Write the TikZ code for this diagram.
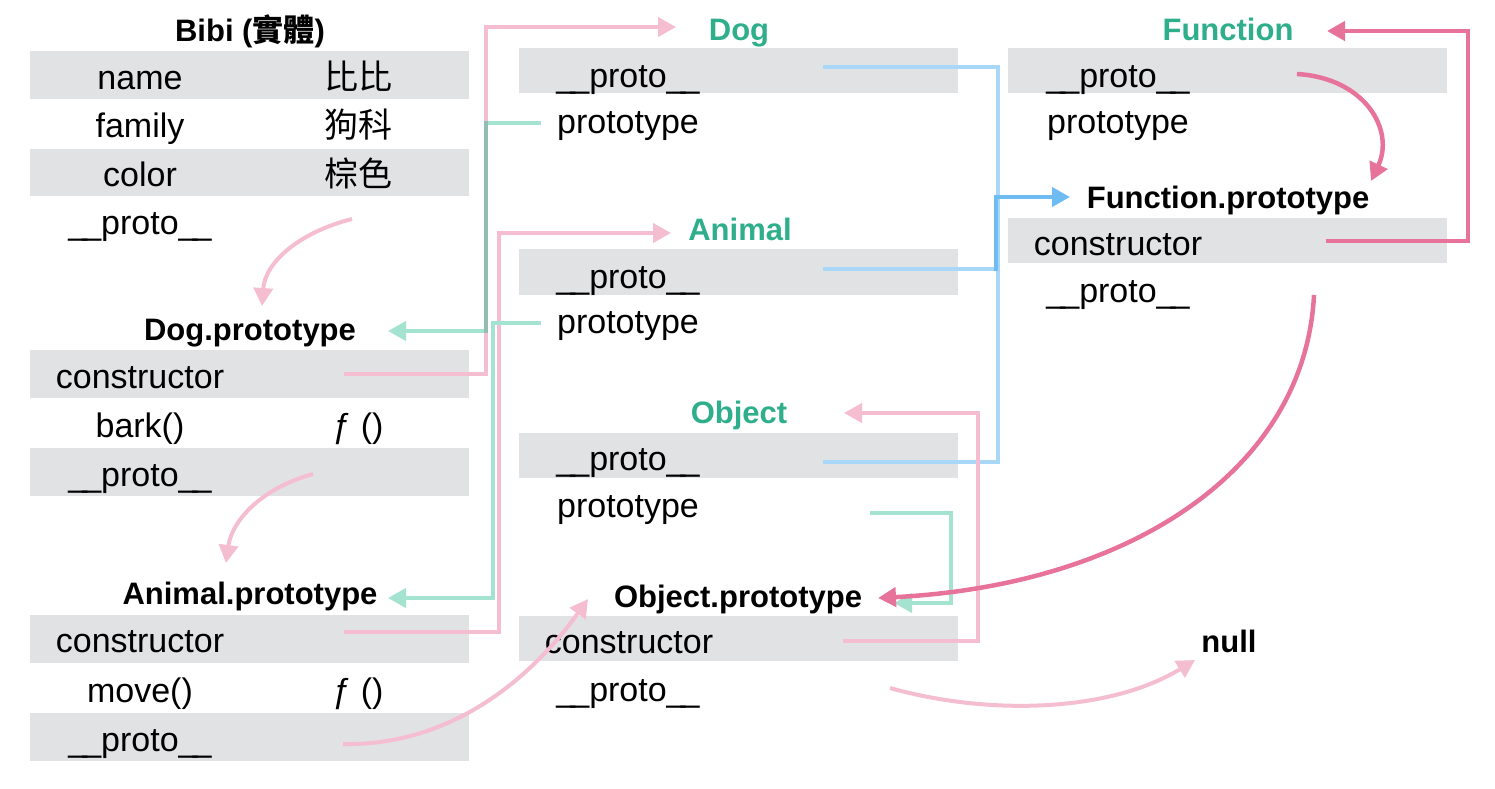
\documentclass[tikz,border=0pt]{standalone}
\usepackage{fontspec}
\setmainfont{Liberation Sans}
\newfontfamily\cjk{Noto Sans CJK TC}
\usetikzlibrary{arrows.meta}
\definecolor{barc}{HTML}{E1E2E4}
\definecolor{tealtxt}{HTML}{2FAE8C}
\definecolor{pinkc}{HTML}{F5BDD0}
\definecolor{dpink}{HTML}{E8739A}
\definecolor{tealc}{HTML}{A3E3D0}
\definecolor{mixc}{HTML}{93BDB3}
\definecolor{bluec}{HTML}{A9D7F7}
\definecolor{dbluec}{HTML}{6FBCF3}
\newcommand\pro{\_\kern-5pt\_proto\_\kern-5pt\_}
\tikzset{
  lbl/.style={anchor=base, inner sep=0pt, font=\fontsize{34}{40}\selectfont},
  ttl/.style={anchor=base, inner sep=0pt, font=\fontsize{31}{38}\selectfont\bfseries},
  tttl/.style={ttl, text=tealtxt},
  bararea/.style={fill=barc},
  tip/.style={-{Triangle[length=18pt,width=19pt]}},
  lpink/.style={tip, draw=pinkc, line width=4pt},
  dkpink/.style={tip, draw=dpink, line width=4.5pt},
  tealln/.style={tip, draw=tealc, line width=4pt},
  mixln/.style={draw=mixc, line width=4pt},
  blueln/.style={draw=bluec, line width=4pt},
  dblueln/.style={tip, draw=dbluec, line width=4pt},
}
\begin{document}
\begin{tikzpicture}[x=1pt,y=-1pt]
\useasboundingbox (0,0) rectangle (1495,788);
% bars
\fill[bararea] (30,51) rectangle (469,99);
\fill[bararea] (30,149) rectangle (469,196);
\fill[bararea] (30,350) rectangle (469,398);
\fill[bararea] (30,448) rectangle (469,496);
\fill[bararea] (30,615) rectangle (469,663);
\fill[bararea] (30,713) rectangle (469,761);
\fill[bararea] (519,48) rectangle (958,93);
\fill[bararea] (519,249) rectangle (958,295);
\fill[bararea] (519,433) rectangle (958,478);
\fill[bararea] (519,616) rectangle (958,661);
\fill[bararea] (1008,48) rectangle (1447,93);
\fill[bararea] (1008,218) rectangle (1447,263);

% left column
\node[ttl] (bibi) at (250,41) {Bibi ({\cjk 實體})};
\node[lbl] (bname) at (140,89) {name};
\node[lbl] (bnamev) at (358,89) {\cjk 比比};
\node[lbl] (bfam) at (140,137) {family};
\node[lbl] (bfamv) at (358,137) {\cjk 狗科};
\node[lbl] (bcol) at (140,186) {color};
\node[lbl] (bcolv) at (358,186) {\cjk 棕色};
\node[lbl] (bproto) at (140,234) {\pro};

\node[ttl] (dogpt) at (250,340) {Dog.prototype};
\node[lbl] (dogptc) at (140,388) {constructor};
\node[lbl] (dogptb) at (140,437) {bark()};
\node[lbl] (dogptbv) at (358,437) {ƒ ()};
\node[lbl] (dogptp) at (140,486) {\pro};

\node[ttl] (anipt) at (250,604) {Animal.prototype};
\node[lbl] (aniptc) at (140,652) {constructor};
\node[lbl] (aniptm) at (140,702) {move()};
\node[lbl] (aniptmv) at (358,702) {ƒ ()};
\node[lbl] (aniptp) at (140,751) {\pro};

% middle column
\node[tttl] (dog) at (739,40) {Dog};
\node[lbl] (dogp) at (628,87) {\pro};
\node[lbl] (dogpt2) at (628,133) {prototype};
\node[tttl] (ani) at (740,240) {Animal};
\node[lbl] (anip) at (628,288) {\pro};
\node[lbl] (anipt2) at (628,333) {prototype};
\node[tttl] (obj) at (739,423) {Object};
\node[lbl] (objp) at (628,470) {\pro};
\node[lbl] (objpt2) at (628,517) {prototype};
\node[ttl] (objpt) at (738,607) {Object.prototype};
\node[lbl] (objptc) at (629,653) {constructor};
\node[lbl] (objptp) at (628,701) {\pro};

% right column
\node[tttl] (fun) at (1228,40) {Function};
\node[lbl] (funp) at (1118,87) {\pro};
\node[lbl] (funpt2) at (1118,133) {prototype};
\node[ttl] (funpt) at (1228,208) {Function.prototype};
\node[lbl] (funptc) at (1118,255) {constructor};
\node[lbl] (funptp) at (1118,302) {\pro};
\node[ttl] (null) at (1229,652) {null};

% connector end points
\coordinate (bibiPs) at (352,219);
\coordinate (dogptIn) at (262,306);
\coordinate (dogptCs) at (344,374);
\coordinate (dogIn) at (676,27);
\coordinate (dogPTs) at (541,123);
\coordinate (dogptR) at (388,331);
\coordinate (dogptPs) at (313,474);
\coordinate (aniptIn) at (226,563);
\coordinate (aniptCs) at (344,632);
\coordinate (aniIn) at (671,233);
\coordinate (aniPTs) at (541,323);
\coordinate (aniptR) at (388,598);
\coordinate (aniptPs) at (343,744);
\coordinate (objptIn) at (588,599);
\coordinate (dogPs) at (823,67);
\coordinate (aniPs) at (823,269);
\coordinate (objPs) at (823,462);
\coordinate (funptIn) at (1070,197);
\coordinate (funPs) at (1297,74);
\coordinate (funptTop) at (1371,181);
\coordinate (funptCs) at (1326,241);
\coordinate (funIn) at (1327,31);
\coordinate (funptPs) at (1314,295);
\coordinate (objptR) at (878,598);
\coordinate (objPTs) at (870,513);
\coordinate (objptR2) at (894,603);
\coordinate (objptCs) at (843,641);
\coordinate (objIn) at (844,413);
\coordinate (objptPs) at (890,688);
\coordinate (nullIn) at (1195,660);

% connectors
\draw[lpink] (bibiPs) .. controls (300,232) and (265,262) .. (dogptIn);
\draw[lpink] (dogptCs) -- (486,374) -- (486,27) -- (dogIn);
\draw[tealln] (dogPTs) -- (486,123) -- (486,331) -- (dogptR);
\draw[mixln] (486,121) -- (486,333);
\draw[lpink] (dogptPs) .. controls (262,488) and (232,520) .. (aniptIn);
\draw[lpink] (aniptCs) -- (499,632) -- (499,233) -- (aniIn);
\draw[tealln] (aniPTs) -- (493,323) -- (493,598) -- (aniptR);
\draw[lpink] (aniptPs) .. controls (450,746) and (530,680) .. (objptIn);

\draw[blueln] (dogPs) -- (998,67) -- (998,462) -- (objPs);
\draw[blueln] (aniPs) -- (996,269);
\draw[dblueln] (996,271) -- (996,197) -- (funptIn);

\draw[tealln] (objPTs) -- (951,513) -- (951,603) -- (objptR2);
\draw[lpink] (objptCs) -- (978,641) -- (978,413) -- (objIn);
\draw[lpink] (objptPs) .. controls (990,716) and (1110,712) .. (nullIn);

\draw[dkpink] (funPs) .. controls (1365,78) and (1395,130) .. (funptTop);
\draw[dkpink] (funptCs) -- (1468,241) -- (1468,31) -- (funIn);
\draw[dkpink] (funptPs) .. controls (1305,470) and (1130,585) .. (objptR);
\end{tikzpicture}
\end{document}
